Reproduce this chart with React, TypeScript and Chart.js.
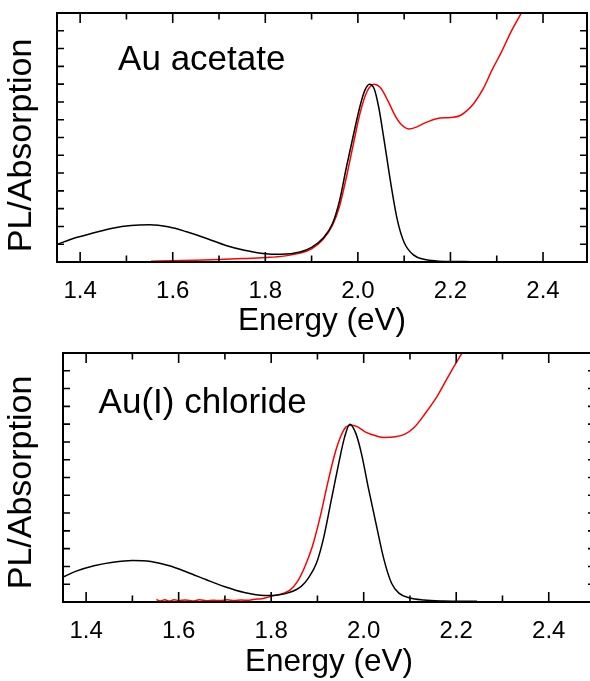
import React, { useEffect, useRef } from 'react';
import { Chart, registerables } from 'chart.js';

Chart.register(...registerables);

const FONT = "'Liberation Sans', Arial, Helvetica, sans-serif";

// Axis ticks
const xTickLabels = [1.4, 1.6, 1.8, 2.0, 2.2, 2.4];
const xMinorTicks = [1.5, 1.7, 1.9, 2.1, 2.3, 2.5];
const yTicks = [0.1, 0.2, 0.3, 0.4, 0.5, 0.6, 0.7, 0.8, 0.9, 1.0, 1.1, 1.2, 1.3];

// Top panel: Au acetate — PL (black)
const acetatePLx = [1.35, 1.39, 1.43, 1.47, 1.51, 1.55, 1.59, 1.63, 1.675, 1.715, 1.755, 1.795, 1.835, 1.875, 1.9, 1.925, 1.945, 1.96, 1.975, 1.99, 2.005, 2.015, 2.025, 2.035, 2.045, 2.057, 2.07, 2.085, 2.1, 2.12, 2.145, 2.17, 2.2, 2.245];
const acetatePLy = [0.099, 0.136, 0.164, 0.19, 0.205, 0.209, 0.198, 0.17, 0.131, 0.093, 0.066, 0.048, 0.043, 0.056, 0.082, 0.135, 0.215, 0.34, 0.53, 0.71, 0.88, 0.965, 1.0, 0.975, 0.87, 0.68, 0.46, 0.24, 0.11, 0.04, 0.014, 0.006, 0.003, 0.002];

// Top panel: Au acetate — Absorption (red)
const acetateAbsX = [1.553, 1.6, 1.65, 1.7, 1.75, 1.8, 1.84, 1.875, 1.9, 1.925, 1.945, 1.96, 1.975, 1.99, 2.005, 2.02, 2.035, 2.048, 2.065, 2.08, 2.095, 2.11, 2.125, 2.145, 2.17, 2.2, 2.22, 2.235, 2.25, 2.27, 2.29, 2.31, 2.33, 2.35, 2.37];
const acetateAbsY = [0.004, 0.007, 0.01, 0.014, 0.019, 0.025, 0.033, 0.05, 0.074, 0.128, 0.205, 0.31, 0.475, 0.66, 0.84, 0.96, 1.0, 0.982, 0.906, 0.825, 0.77, 0.748, 0.757, 0.782, 0.806, 0.813, 0.822, 0.85, 0.89, 0.97, 1.08, 1.18, 1.29, 1.385, 1.48];

// Bottom panel: Au(I) chloride — PL (black)
const chloridePLx = [1.35, 1.377, 1.417, 1.458, 1.5, 1.54, 1.58, 1.62, 1.66, 1.7, 1.74, 1.785, 1.815, 1.84, 1.865, 1.88, 1.898, 1.914, 1.93, 1.946, 1.958, 1.97, 1.983, 1.995, 2.011, 2.028, 2.044, 2.06, 2.076, 2.1, 2.13, 2.17, 2.245];
const chloridePLy = [0.14, 0.172, 0.204, 0.224, 0.234, 0.228, 0.204, 0.166, 0.125, 0.086, 0.055, 0.037, 0.04, 0.054, 0.088, 0.133, 0.219, 0.368, 0.574, 0.779, 0.92, 1.0, 0.948, 0.836, 0.63, 0.424, 0.237, 0.107, 0.05, 0.022, 0.011, 0.006, 0.004];

// Bottom panel: Au(I) chloride — Absorption (red)
const chlorideAbsX = [1.552, 1.56, 1.57, 1.58, 1.59, 1.6, 1.615, 1.63, 1.645, 1.66, 1.675, 1.69, 1.705, 1.72, 1.735, 1.75, 1.765, 1.775, 1.79, 1.8, 1.824, 1.84, 1.857, 1.873, 1.889, 1.906, 1.922, 1.938, 1.95, 1.962, 1.975, 1.987, 2.003, 2.028, 2.044, 2.068, 2.089, 2.109, 2.133, 2.158, 2.182, 2.203, 2.225];
const chlorideAbsY = [0.014, 0.006, 0.012, 0.005, 0.013, 0.008, 0.011, 0.006, 0.012, 0.007, 0.01, 0.008, 0.012, 0.009, 0.011, 0.01, 0.016, 0.017, 0.025, 0.032, 0.047, 0.065, 0.116, 0.2, 0.312, 0.48, 0.667, 0.836, 0.929, 0.985, 0.994, 0.985, 0.957, 0.933, 0.925, 0.929, 0.944, 0.981, 1.06, 1.153, 1.265, 1.359, 1.45];

const toPoints = (xs: number[], ys: number[]) => xs.map((x, i) => ({ x, y: ys[i] }));

const framePlugin = {
  id: 'frame',
  afterDatasetsDraw(chart: any, _args: any, opts: any) {
    const { ctx, chartArea: a, scales } = chart;
    const x = scales.x;
    const y = scales.y;
    ctx.save();
    ctx.strokeStyle = '#000';
    ctx.lineWidth = 2;
    ctx.strokeRect(a.left, a.top, a.right - a.left, a.bottom - a.top);
    ctx.lineWidth = 1.6;
    ctx.beginPath();
    const inX = (v: number) => v >= x.min && v <= x.max;
    for (const v of xTickLabels) {
      if (!inX(v)) continue;
      const px = x.getPixelForValue(v);
      ctx.moveTo(px, a.bottom);
      ctx.lineTo(px, a.bottom - 10);
      ctx.moveTo(px, a.top);
      ctx.lineTo(px, a.top + 10);
    }
    for (const v of xMinorTicks) {
      if (!inX(v)) continue;
      const px = x.getPixelForValue(v);
      ctx.moveTo(px, a.bottom);
      ctx.lineTo(px, a.bottom - 6.5);
      ctx.moveTo(px, a.top);
      ctx.lineTo(px, a.top + 6.5);
    }
    for (const v of yTicks) {
      const py = y.getPixelForValue(v);
      ctx.moveTo(a.left, py);
      ctx.lineTo(a.left + 7, py);
      ctx.moveTo(a.right, py);
      ctx.lineTo(a.right - 7, py);
    }
    ctx.stroke();

    // panel annotation
    ctx.fillStyle = '#000';
    ctx.font = `35px ${FONT}`;
    ctx.textBaseline = 'alphabetic';
    ctx.textAlign = 'left';
    ctx.fillText(opts.label, x.getPixelForValue(opts.labelX), y.getPixelForValue(opts.labelY));

    // y-axis title (rotated)
    ctx.save();
    ctx.translate(22, (a.top + a.bottom) / 2 + opts.yTitleShift);
    ctx.rotate(-Math.PI / 2);
    ctx.font = `34px ${FONT}`;
    ctx.textAlign = 'center';
    ctx.textBaseline = 'middle';
    ctx.fillText(opts.yTitle, 0, 0);
    ctx.restore();

    ctx.restore();
  },
};

type PanelProps = {
  top: number;
  width: number;
  height: number;
  xMin: number;
  xMax: number;
  yAxisWidth: number;
  xAxisHeight: number;
  padTop: number;
  padRight: number;
  plX: number[];
  plY: number[];
  absX: number[];
  absY: number[];
  label: string;
  labelX: number;
  labelY: number;
  yTitleShift: number;
};

function Panel(p: PanelProps) {
  const ref = useRef<HTMLCanvasElement | null>(null);
  useEffect(() => {
    if (!ref.current) return;
    const chart = new Chart(ref.current, {
      type: 'line',
      data: {
        datasets: [
          {
            label: 'PL',
            data: toPoints(p.plX, p.plY),
            borderColor: '#000000',
            borderWidth: 1.5,
            pointRadius: 0,
            cubicInterpolationMode: 'monotone',
          },
          {
            label: 'Absorption',
            data: toPoints(p.absX, p.absY),
            borderColor: '#ff0000',
            borderWidth: 1.5,
            pointRadius: 0,
            cubicInterpolationMode: 'monotone',
          },
        ],
      },
      options: {
        responsive: false,
        animation: false,
        events: [],
        layout: { padding: { top: p.padTop, right: p.padRight, left: 0, bottom: 0 } },
        plugins: {
          legend: { display: false },
          tooltip: { enabled: false },
          frame: {
            label: p.label,
            labelX: p.labelX,
            labelY: p.labelY,
            yTitle: 'PL/Absorption',
            yTitleShift: p.yTitleShift,
          },
        } as any,
        scales: {
          x: {
            type: 'linear',
            min: p.xMin,
            max: p.xMax,
            grid: { display: false, drawTicks: false },
            border: { display: false },
            afterBuildTicks: (s: any) => {
              s.ticks = xTickLabels.map((v) => ({ value: v }));
            },
            afterFit: (s: any) => {
              s.height = p.xAxisHeight;
            },
            ticks: {
              color: '#000',
              font: { family: FONT, size: 24 },
              padding: 15,
              maxRotation: 0,
              autoSkip: false,
              callback: (v: any) => Number(v).toFixed(1),
            },
            title: {
              display: true,
              text: 'Energy (eV)',
              color: '#000',
              font: { family: FONT, size: 31.5 },
              padding: { top: 0, bottom: 0 },
            },
          },
          y: {
            type: 'linear',
            min: 0,
            max: 1.4,
            grid: { display: false, drawTicks: false },
            border: { display: false },
            ticks: { display: false, stepSize: 0.1 },
            afterFit: (s: any) => {
              s.width = p.yAxisWidth;
            },
            title: { display: false },
          },
        },
      },
      plugins: [framePlugin as any],
    } as any);
    return () => chart.destroy();
  }, []);
  return (
    <canvas
      ref={ref}
      width={p.width}
      height={p.height}
      style={{ position: 'absolute', left: 0, top: p.top, width: p.width, height: p.height }}
    />
  );
}

export default function App() {
  return (
    <div
      style={{
        position: 'absolute',
        left: 0,
        top: 0,
        width: 590,
        height: 681,
        overflow: 'hidden',
        background: '#fff',
      }}
    >
      <Panel
        top={0}
        width={590}
        height={340}
        xMin={1.35}
        xMax={2.495}
        yAxisWidth={57}
        xAxisHeight={78}
        padTop={13}
        padRight={3}
        plX={acetatePLx}
        plY={acetatePLy}
        absX={acetateAbsX}
        absY={acetateAbsY}
        label="Au acetate"
        labelX={1.482}
        labelY={1.08}
        yTitleShift={8}
      />
      <Panel
        top={340}
        width={600}
        height={341}
        xMin={1.35}
        xMax={2.5}
        yAxisWidth={63}
        xAxisHeight={79}
        padTop={13}
        padRight={5}
        plX={chloridePLx}
        plY={chloridePLy}
        absX={chlorideAbsX}
        absY={chlorideAbsY}
        label="Au(I) chloride"
        labelX={1.427}
        labelY={1.06}
        yTitleShift={5}
      />
    </div>
  );
}
